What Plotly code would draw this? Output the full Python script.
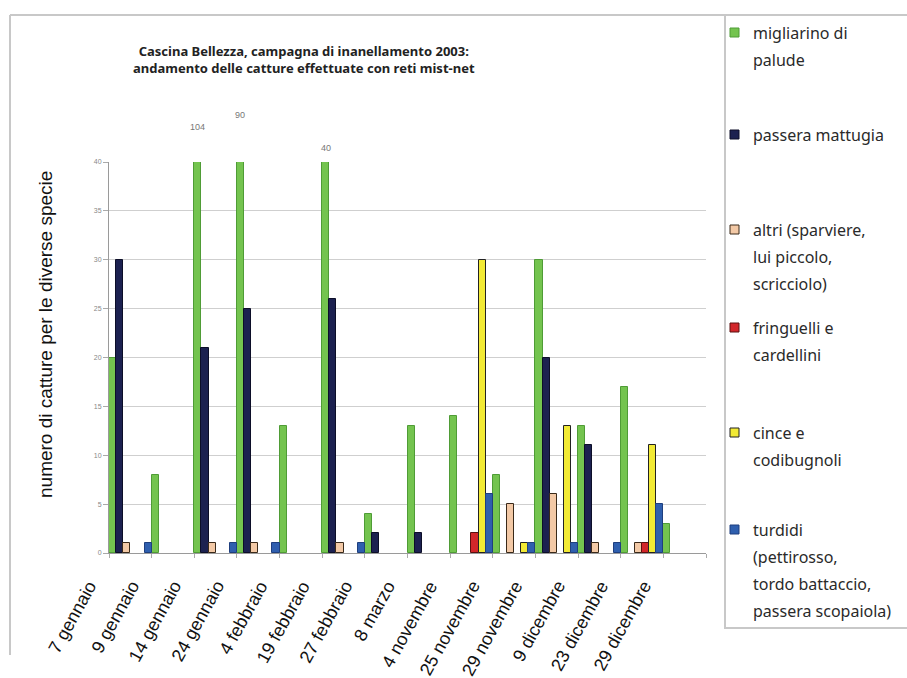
import plotly.graph_objects as go

# Date delle sessioni di cattura (2003)
date_sessioni = [
    "7 gennaio", "9 gennaio", "14 gennaio", "24 gennaio", "4 febbraio",
    "19 febbraio", "27 febbraio", "8 marzo", "4 novembre", "25 novembre",
    "29 novembre", "9 dicembre", "23 dicembre", "29 dicembre",
]

# Catture per gruppo di specie
migliarino = [20, 8, 104, 90, 13, 40, 4, 13, 14, 8, 30, 13, 17, 3]
passera_mattugia = [30, 0, 21, 25, 0, 26, 2, 2, 0, 0, 20, 11, 0, 0]
altri = [1, 0, 1, 1, 0, 1, 0, 0, 0, 5, 6, 1, 1, 0]
fringuelli = [0, 0, 0, 0, 0, 0, 0, 0, 2, 0, 0, 0, 1, 0]
cince = [0, 0, 0, 0, 0, 0, 0, 0, 30, 1, 13, 0, 11, 0]
turdidi = [1, 0, 1, 1, 0, 1, 0, 0, 6, 1, 1, 1, 5, 0]

nomi_legenda = [
    ["migliarino di", "palude"],
    ["passera mattugia"],
    ["altri (sparviere,", "lui piccolo,", "scricciolo)"],
    ["fringuelli e", "cardellini"],
    ["cince e", "codibugnoli"],
    ["turdidi", "(pettirosso,", "tordo battaccio,", "passera scopaiola)"],
]

Y_MAX = 40

serie = [
    (migliarino, "#74c44f", "#4f9c36"),
    (passera_mattugia, "#1c2150", "#0c0e28"),
    (altri, "#f3c9a6", "#3a2a1a"),
    (fringuelli, "#d2262a", "#5a1010"),
    (cince, "#f2ea35", "#222222"),
    (turdidi, "#2f5fae", "#1f3f7e"),
]

W, H = 907, 678
L, R, T, B = 109, 706, 162, 553  # plot area in pixels


def xp(px):
    return (px - L) / (R - L)


def yp(py):
    return (B - py) / (B - T)


fig = go.Figure()
for (vals, fill, edge), nome in zip(serie, nomi_legenda):
    # sessions with no captures get no bar at all
    fig.add_trace(go.Bar(
        x=date_sessioni, y=[v if v else None for v in vals],
        name=" ".join(nome),
        marker=dict(color=fill, line=dict(color=edge, width=1)),
        showlegend=False,
    ))

cat_w = (R - L) / len(date_sessioni)
bar_w = cat_w / len(serie)

annotations = []

# Titolo
annotations.append(dict(
    x=xp(304), y=yp(60), xref="paper", yref="paper",
    text="<b>Cascina Bellezza, campagna di inanellamento 2003:<br>"
         "andamento delle catture effettuate con reti mist-net</b>",
    showarrow=False, xanchor="center", yanchor="middle", align="center",
    font=dict(family="Noto Sans", size=13, color="#222"),
))

# Titolo asse y
annotations.append(dict(
    x=xp(45), y=yp(335), xref="paper", yref="paper",
    text="numero di catture per le diverse specie", textangle=-90,
    showarrow=False, xanchor="center", yanchor="middle",
    font=dict(family="Liberation Sans, Arial", size=19, color="#111"),
))

# Etichette delle date, ruotate
for d in date_sessioni:
    annotations.append(dict(
        x=d, xref="x", y=yp(575), yref="paper", xshift=-27,
        text=d, textangle=-61, showarrow=False,
        xanchor="right", yanchor="top",
        font=dict(family="Liberation Sans, Arial", size=18, color="#111"),
    ))

# Valori delle barre che escono dalla scala
label_lift = {2: 127, 3: 115, 5: 148}
for i, py in label_lift.items():
    annotations.append(dict(
        x=date_sessioni[i], xref="x", y=yp(py), yref="paper",
        xshift=-2.5 * bar_w, text=str(migliarino[i]), showarrow=False,
        xanchor="center", yanchor="middle",
        font=dict(family="Liberation Sans, Arial", size=9, color="#777"),
    ))

shapes = []
frame = "#c8c8c8"
# Cornice del grafico
shapes.append(dict(type="line", xref="paper", yref="paper",
                   x0=xp(10), x1=xp(910), y0=yp(15), y1=yp(15),
                   line=dict(color=frame, width=2)))
shapes.append(dict(type="line", xref="paper", yref="paper",
                   x0=xp(10), x1=xp(10), y0=yp(15), y1=yp(655),
                   line=dict(color=frame, width=2)))
# Riquadro della legenda
shapes.append(dict(type="rect", xref="paper", yref="paper",
                   x0=xp(725), x1=xp(912), y0=yp(15), y1=yp(628),
                   line=dict(color=frame, width=2), fillcolor="rgba(0,0,0,0)"))

# Legenda
legend_top = [33, 135, 230, 328, 433, 530]
line_step = 27
for (vals, fill, edge), righe, y0 in zip(serie, nomi_legenda, legend_top):
    shapes.append(dict(type="rect", xref="paper", yref="paper",
                       x0=xp(730), x1=xp(739), y0=yp(y0 - 5), y1=yp(y0 + 4),
                       line=dict(color=edge, width=1), fillcolor=fill))
    for k, riga in enumerate(righe):
        annotations.append(dict(
            x=xp(751), y=yp(y0 + k * line_step), xref="paper", yref="paper",
            text=riga, showarrow=False, xanchor="left", yanchor="middle",
            font=dict(family="Noto Sans", size=16, color="#2a2a2a"),
        ))

fig.update_layout(
    width=W, height=H,
    margin=dict(l=L, r=W - R, t=T, b=H - B),
    paper_bgcolor="white", plot_bgcolor="white",
    barmode="group", bargap=0.0, bargroupgap=0.0,
    annotations=annotations, shapes=shapes,
    xaxis=dict(
        type="category", categoryorder="array", categoryarray=date_sessioni,
        range=[-0.5, len(date_sessioni) - 0.5],
        showticklabels=False, ticks="outside", tickson="boundaries",
        ticklen=4, tickcolor="#aaaaaa",
        showline=True, linecolor="#9a9a9a", linewidth=1, showgrid=False,
    ),
    yaxis=dict(
        range=[0, Y_MAX], dtick=5, tick0=0,
        showgrid=True, gridcolor="#cfcfcf", gridwidth=1,
        showline=True, linecolor="#9a9a9a", linewidth=1,
        ticks="outside", ticklen=5, tickcolor="#aaaaaa",
        tickfont=dict(family="Liberation Sans, Arial", size=7, color="#888"),
        zeroline=False,
    ),
)

fig.write_html("out.html")
